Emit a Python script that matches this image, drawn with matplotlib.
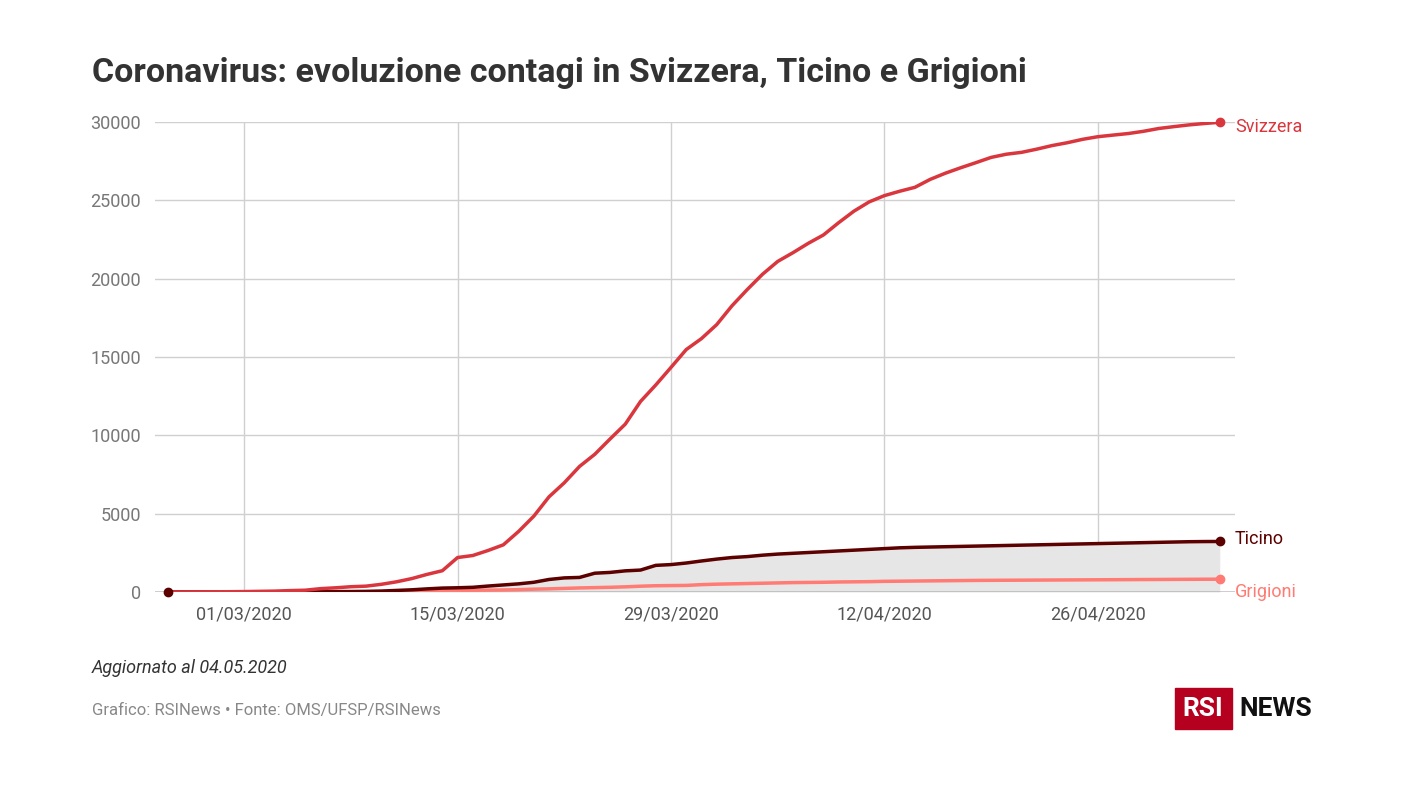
import pandas as pd
import matplotlib.pyplot as plt
import matplotlib.dates as mdates
from matplotlib.patches import Rectangle

plt.rcParams["font.family"] = "Roboto"

dates = pd.date_range("2020-02-25", "2020-05-04", freq="D")

svizzera = [1, 1, 8, 15, 18,
            27, 42, 56, 90, 114, 214, 268, 337, 374, 491,
            652, 858, 1125, 1359, 2200, 2330, 2650, 3010, 3863, 4840,
            6077, 6971, 8015, 8789, 9765, 10714, 12161, 13213, 14336, 15475, 16176,
            17068, 18267, 19303, 20278, 21100, 21657, 22253, 22789, 23574, 24308,
            24900, 25300, 25580, 25830, 26336, 26732, 27078, 27404, 27740, 27944,
            28063, 28268, 28496, 28677, 28894, 29061, 29164, 29264, 29407, 29586,
            29705, 29817, 29905, 29981]
ticino = [1, 1, 1, 1, 1,
          1, 3, 5, 8, 10, 15, 25, 30, 40, 60,
          100, 140, 200, 250, 270, 300, 380, 450, 520, 620,
          800, 900, 930, 1200, 1250, 1350, 1400, 1700, 1750, 1850, 1980,
          2100, 2200, 2260, 2350, 2420, 2470, 2520, 2570, 2620, 2670,
          2720, 2770, 2820, 2850, 2870, 2890, 2910, 2930, 2950, 2970,
          2990, 3010, 3030, 3050, 3070, 3090, 3110, 3130, 3150, 3170,
          3190, 3210, 3220, 3225]
grigioni = [0, 0, 0, 0, 0,
            0, 0, 0, 1, 2, 5, 8, 10, 15, 20,
            30, 40, 60, 80, 100, 110, 120, 130, 150, 180,
            200, 230, 260, 280, 300, 330, 370, 400, 410, 420, 470,
            500, 520, 540, 560, 580, 600, 610, 620, 640, 650,
            660, 680, 690, 700, 710, 720, 730, 740, 745, 750,
            755, 760, 765, 770, 775, 780, 785, 790, 795, 800,
            805, 810, 815, 818]

c_ch, c_ti, c_gr = "#d9363e", "#5c0000", "#ff7b73"

fig = plt.figure(figsize=(14.08, 7.92), dpi=100)
ax = fig.add_axes([155/1408, 1-592/792, (1235-155)/1408, 470/792])

ax.fill_between(dates, 0, ticino, color="#e6e6e6", lw=0)
ax.plot(dates, grigioni, color=c_gr, lw=2.5)
ax.plot(dates, ticino, color=c_ti, lw=2.5)
ax.plot(dates, svizzera, color=c_ch, lw=2.5)
ax.plot(dates[0], 0, "o", color=c_ti, ms=6, clip_on=False, zorder=5)
for s, c in [(svizzera, c_ch), (ticino, c_ti), (grigioni, c_gr)]:
    ax.plot(dates[-1], s[-1], "o", color=c, ms=6, clip_on=False, zorder=5)

ax.set_ylim(0, 30000)
ax.set_xlim(dates[0] - pd.Timedelta(days=0.85), dates[-1] + pd.Timedelta(days=1))
ax.set_yticks(range(0, 30001, 5000))
ticks = pd.to_datetime(["2020-03-01", "2020-03-15", "2020-03-29", "2020-04-12", "2020-04-26"])
ax.set_xticks(ticks)
ax.xaxis.set_major_formatter(mdates.DateFormatter("%d/%m/%Y"))
ax.grid(True, color="#d0d0d0", lw=1)
ax.set_axisbelow(True)
for sp in ax.spines.values():
    sp.set_visible(False)
ax.axhline(0, color="#333333", lw=1, zorder=1)
ax.tick_params(length=0, labelsize=13, colors="#777777", pad=10)
ax.tick_params(axis="x", colors="#555555")

fig.text(92/1408, 1-73/792, "Coronavirus: evoluzione contagi in Svizzera, Ticino e Grigioni",
         fontsize=24.5, fontweight="bold", color="#333333", va="center")
fig.text(1235/1408, 1-127/792, "Svizzera", color=c_ch, fontsize=13, va="center")
fig.text(1235/1408, 1-539/792, "Ticino", color=c_ti, fontsize=13, va="center")
fig.text(1235/1408, 1-592/792, "Grigioni", color=c_gr, fontsize=13, va="center")
fig.text(92/1408, 1-668/792, "Aggiornato al 04.05.2020", fontsize=13, style="italic",
         color="#333333", va="center")
fig.text(92/1408, 1-710/792, "Grafico: RSINews • Fonte: OMS/UFSP/RSINews", fontsize=12,
         color="#888888", va="center")

fig.patches.append(Rectangle((1175/1408, 1-729/792), 57/1408, 41/792,
                             transform=fig.transFigure, color="#b5001f"))
fig.text(1203/1408, 1-709/792, "RSI", color="white", fontsize=19, fontweight="bold",
         ha="center", va="center")
fig.text(1239/1408, 1-709/792, "NEWS", color="#111111", fontsize=19, fontweight="bold",
         va="center")

fig.savefig("out.png", dpi=100)
plt.close(fig)
